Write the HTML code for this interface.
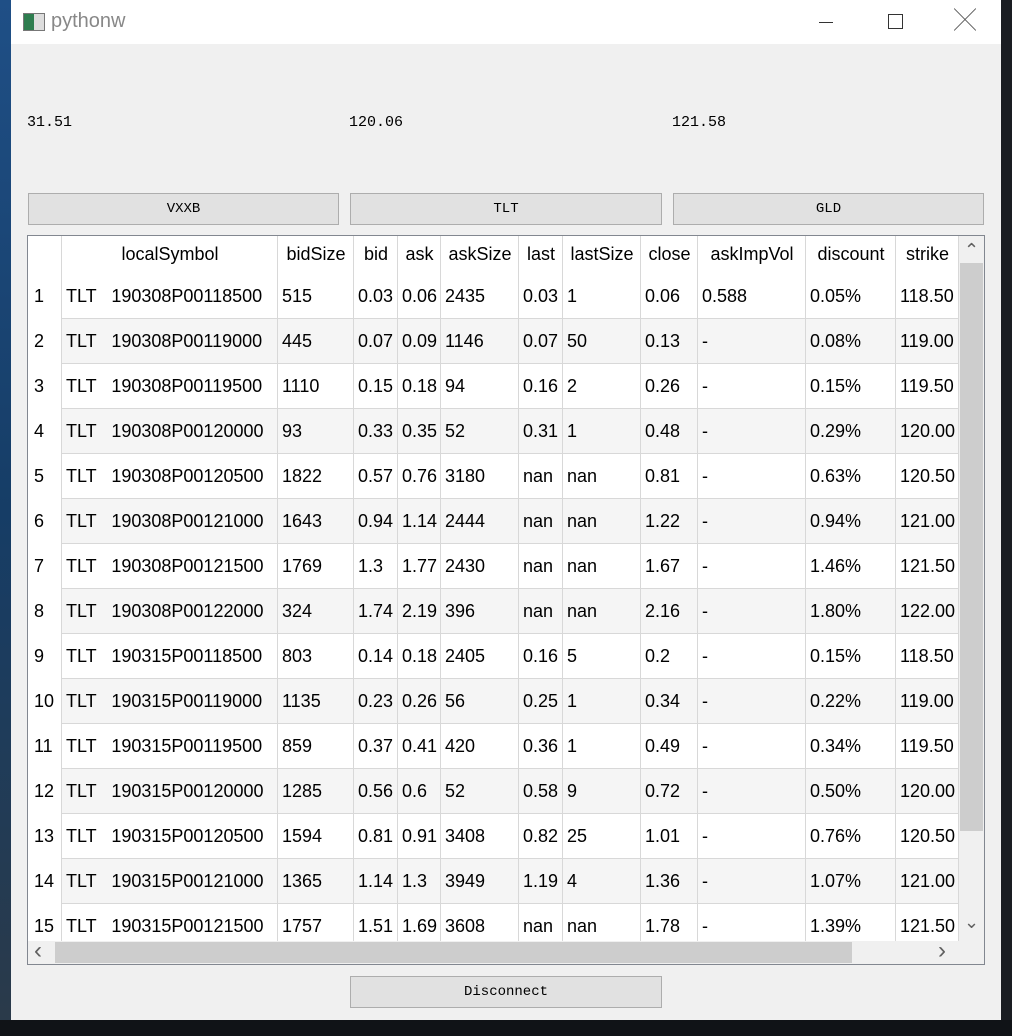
<!DOCTYPE html>
<html><head><meta charset="utf-8">
<style>
body{margin:0;width:1012px;height:1036px;position:relative;overflow:hidden;background:#1a1d22;font-family:"Liberation Sans","Noto Sans CJK SC",sans-serif}
.abs{position:absolute}
#win{left:11px;top:0;width:990px;height:1020px;background:#f0f0f0}
#titlebar{left:0;top:0;width:990px;height:44px;background:#fff}
.lbl{font-family:"Liberation Mono",monospace;font-size:15px;color:#000;top:114px}
.btn{height:30px;background:#e1e1e1;border:1px solid #adadad;font-family:"Liberation Mono",monospace;font-size:14px;line-height:30px;text-align:center;color:#000}
#tbl{left:16px;top:235px;width:956px;height:728px;border:1px solid #828790;background:#fff;overflow:hidden}
.cell{position:absolute;font-size:18px;color:#000;line-height:45px;white-space:pre;padding-left:4px;box-sizing:border-box}
.vl{position:absolute;width:1px;background:#d8d8d8}
.hl{position:absolute;height:1px;background:#d8d8d8}
</style></head><body>
<div class="abs" style="left:0;top:0;width:11px;height:1020px;background:linear-gradient(#1f4f86,#163d66 50%,#2a3a4a)"></div>
<div class="abs" style="left:0;top:1020px;width:1012px;height:16px;background:#101317"></div>
<div id="win" class="abs">
 <div id="titlebar" class="abs">
  <div class="abs" style="left:12px;top:13px;width:20px;height:16px;border:1px solid #777;background:linear-gradient(90deg,#2e7d4f 50%,#ddd 50%)"></div>
  <div class="abs" style="left:40px;top:10px;font-size:20px;color:#888">pythonw</div>
  <div class="abs" style="left:808px;top:22px;width:14px;height:1px;background:#333"></div>
  <div class="abs" style="left:877px;top:14px;width:13px;height:13px;border:1px solid #333"></div>
  <div class="abs" style="left:943px;top:4px;font-size:22px;color:#555;line-height:34px;font-weight:100">╳</div>
 </div>
 <div class="abs lbl" style="left:16px">31.51</div>
 <div class="abs lbl" style="left:338px">120.06</div>
 <div class="abs lbl" style="left:661px">121.58</div>
 <div class="abs btn" style="left:17px;top:193px;width:309px">VXXB</div>
 <div class="abs btn" style="left:339px;top:193px;width:310px">TLT</div>
 <div class="abs btn" style="left:662px;top:193px;width:309px">GLD</div>
 <div id="tbl" class="abs"></div>
 <div class="abs btn" style="left:339px;top:976px;width:310px">Disconnect</div>
</div>
<script>
const headers=["localSymbol","bidSize","bid","ask","askSize","last","lastSize","close","askImpVol","discount","strike"];
const rows=[
["TLT   190308P00118500","515","0.03","0.06","2435","0.03","1","0.06","0.588","0.05%","118.50"],
["TLT   190308P00119000","445","0.07","0.09","1146","0.07","50","0.13","-","0.08%","119.00"],
["TLT   190308P00119500","1110","0.15","0.18","94","0.16","2","0.26","-","0.15%","119.50"],
["TLT   190308P00120000","93","0.33","0.35","52","0.31","1","0.48","-","0.29%","120.00"],
["TLT   190308P00120500","1822","0.57","0.76","3180","nan","nan","0.81","-","0.63%","120.50"],
["TLT   190308P00121000","1643","0.94","1.14","2444","nan","nan","1.22","-","0.94%","121.00"],
["TLT   190308P00121500","1769","1.3","1.77","2430","nan","nan","1.67","-","1.46%","121.50"],
["TLT   190308P00122000","324","1.74","2.19","396","nan","nan","2.16","-","1.80%","122.00"],
["TLT   190315P00118500","803","0.14","0.18","2405","0.16","5","0.2","-","0.15%","118.50"],
["TLT   190315P00119000","1135","0.23","0.26","56","0.25","1","0.34","-","0.22%","119.00"],
["TLT   190315P00119500","859","0.37","0.41","420","0.36","1","0.49","-","0.34%","119.50"],
["TLT   190315P00120000","1285","0.56","0.6","52","0.58","9","0.72","-","0.50%","120.00"],
["TLT   190315P00120500","1594","0.81","0.91","3408","0.82","25","1.01","-","0.76%","120.50"],
["TLT   190315P00121000","1365","1.14","1.3","3949","1.19","4","1.36","-","1.07%","121.00"],
["TLT   190315P00121500","1757","1.51","1.69","3608","nan","nan","1.78","-","1.39%","121.50"]];
const colX=[34,250,326,370,413,491,535,613,670,778,868,931];
const t=document.getElementById('tbl');
function add(html,style,cls){const d=document.createElement('div');d.className=cls||'';d.style.cssText=style;if(html!==null)d.textContent=html;t.appendChild(d);return d;}
const rowTop=38, rowH=45;
rows.forEach((r,i)=>{
 const y=rowTop+i*rowH;
 if(i%2==1){const b=add(null,`position:absolute;left:34px;top:${y}px;width:897px;height:${rowH}px;background:#f5f5f5`);
 
 }
 const n=add(String(i+1),`left:0;top:${y}px;width:34px;padding-left:6px`,'cell');
 
 
 r.forEach((v,j)=>{const c=add(v,`left:${colX[j]}px;top:${y}px;width:${colX[j+1]-colX[j]}px`,'cell');
 
 });
 const l=add(null,`left:34px;top:${y+rowH-1}px;width:897px`,'hl');
 
 
});
headers.forEach((h,j)=>{const c=add(h,`left:${colX[j]}px;top:-2px;width:${colX[j+1]-colX[j]}px;line-height:40px;text-align:center;padding:0`,'cell');
 
 });
colX.forEach(x=>{const l=add(null,`left:${x-1}px;top:0;height:705px`,'vl');
 
 });
let s=add(null,'position:absolute;left:931px;top:0;width:25px;height:705px;background:#f0f0f0');


s=add(null,'position:absolute;left:932px;top:27px;width:23px;height:568px;background:#cdcdcd');


s=add('⌃','position:absolute;left:936px;top:2px;font-size:18px;color:#606060;line-height:24px');


s=add('⌄','position:absolute;left:936px;top:674px;font-size:18px;color:#606060;line-height:24px');


s=add(null,'position:absolute;left:0;top:705px;width:956px;height:23px;background:#f0f0f0');


s=add(null,'position:absolute;left:27px;top:706px;width:797px;height:21px;background:#cdcdcd');


s=add('‹','position:absolute;left:6px;top:703px;font-size:24px;color:#606060;line-height:24px');


s=add('›','position:absolute;left:910px;top:703px;font-size:24px;color:#606060;line-height:24px');


</script>
</body></html>
